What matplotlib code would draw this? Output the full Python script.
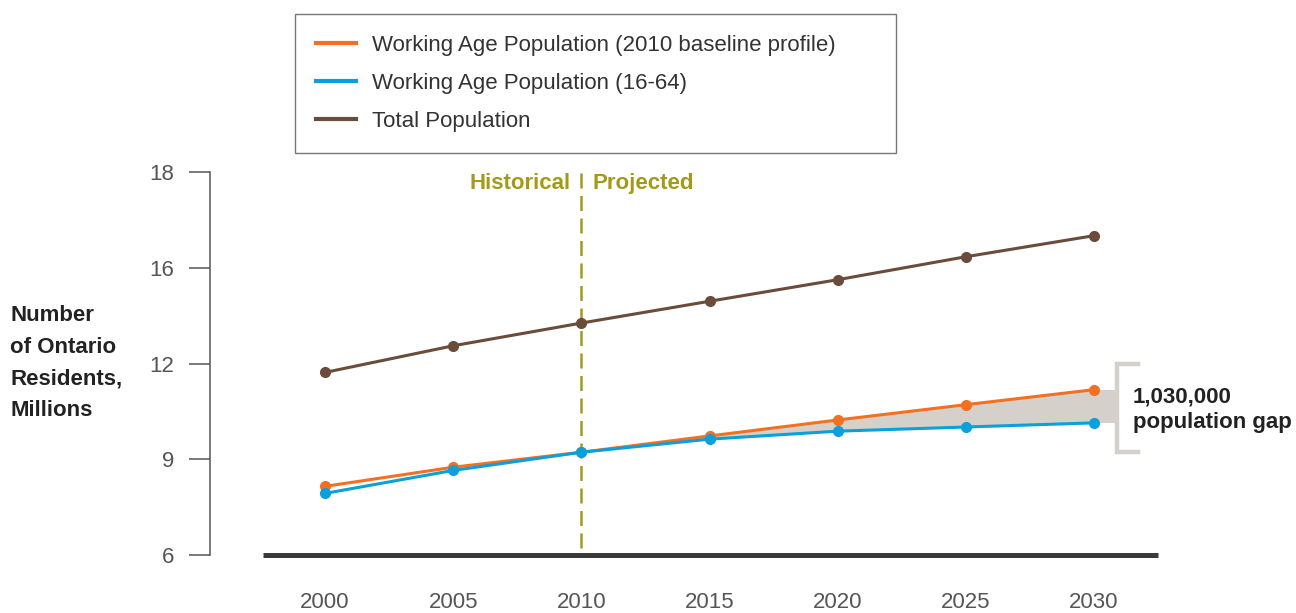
import numpy as np
import matplotlib.pyplot as plt
from matplotlib.lines import Line2D

plt.rcParams['font.family'] = ['Liberation Sans', 'DejaVu Sans']

# データ
years = [2000, 2005, 2010, 2015, 2020, 2025, 2030]
total_pop = [11.72, 12.74, 13.69, 14.60, 15.50, 16.23, 16.67]
working_baseline = [8.15, 8.75, 9.22, 9.73, 10.23, 10.71, 11.18]
working_16_64 = [7.93, 8.65, 9.22, 9.63, 9.88, 10.01, 10.14]
ytick_vals = [6, 9, 12, 16, 18]

orange = '#f37021'
blue = '#0aa0dc'
brown = '#6b4c3b'
olive = '#a39a1a'
gap_grey = '#d6d0cb'
grey_txt = '#555555'

# Y軸は目盛が等間隔(6, 9, 12, 16, 18)の区分線形スケール
def fwd(v):
    return np.interp(v, ytick_vals, np.arange(len(ytick_vals)))

def inv(p):
    return np.interp(p, np.arange(len(ytick_vals)), ytick_vals)

fig = plt.figure(figsize=(12.96, 6.13), dpi=100)
ax = fig.add_axes([210 / 1296, 58 / 613, 1 - 210 / 1296, 383 / 613])
ax.set_yscale('function', functions=(fwd, inv))
px_per_year = (1094 - 325) / 30
ax.set_xlim(2000 - 115 / px_per_year, 2030 + 202 / px_per_year)
ax.set_ylim(6, 18)

# 人口ギャップの塗り (2010年以降)
i0 = years.index(2010)
ax.fill_between(years[i0:], working_16_64[i0:], working_baseline[i0:],
                color=gap_grey, lw=0)
x_br = 2030 + 21 / px_per_year
ax.fill_between([2030, x_br], working_16_64[-1], working_baseline[-1],
                color=gap_grey, lw=0)

# 系列
ax.plot(years, total_pop, color=brown, lw=2.2, marker='o', ms=7, zorder=3)
ax.plot(years, working_baseline, color=orange, lw=2.2, marker='o', ms=7, zorder=4)
ax.plot(years, working_16_64, color=blue, lw=2.2, marker='o', ms=7, zorder=5)

# 基準線 (x軸)
ax.plot([2000 - 62 / px_per_year, 2030 + 64 / px_per_year], [6, 6],
        color='#3a3a3a', lw=3.6, solid_capstyle='butt', clip_on=False)

# 2010年の区切り線
ax.axvline(2010, ymin=7 / 383, ymax=1, color=olive, lw=1.8, dashes=(6, 3))
off = 11 / px_per_year
ax.text(2010 - off, 17.77, 'Historical', color=olive, fontsize=16,
        fontweight='bold', ha='right', va='center')
ax.text(2010 + off, 17.77, 'Projected', color=olive, fontsize=16,
        fontweight='bold', ha='left', va='center')

# 括弧と注記
bx0 = 2030 + 23 / px_per_year
bx1 = 2030 + 44 / px_per_year
ax.plot([bx1, bx0, bx0, bx1], [11.97, 11.97, 9.22, 9.22], color=gap_grey,
        lw=3.2, solid_joinstyle='miter', clip_on=False)
ax.text(2030 + 39 / px_per_year, 10.55, '1,030,000\npopulation gap',
        fontsize=16, fontweight='bold', color='#222222', ha='left',
        va='center', linespacing=1.3)

# 軸の体裁
for s in ['top', 'right', 'bottom']:
    ax.spines[s].set_visible(False)
ax.spines['left'].set_color(grey_txt)
ax.spines['left'].set_linewidth(1.1)
ax.set_yticks(ytick_vals)
ax.set_yticklabels([str(v) for v in ytick_vals])
ax.yaxis.set_minor_locator(plt.NullLocator())
ax.tick_params(axis='y', length=15, width=1.1, color=grey_txt, pad=11,
               labelsize=16, labelcolor=grey_txt)
ax.set_xticks(years)
ax.tick_params(axis='x', length=0, pad=27, labelsize=16, labelcolor=grey_txt)
ax.patch.set_visible(False)

fig.text(10 / 1296, 1 - 363 / 613, 'Number\nof Ontario\nResidents,\nMillions',
         fontsize=16, fontweight='bold', color='#222222', ha='left',
         va='center', linespacing=1.65)

# 凡例
handles = [Line2D([], [], color=orange, lw=3),
           Line2D([], [], color=blue, lw=3),
           Line2D([], [], color=brown, lw=3)]
labels = ['Working Age Population (2010 baseline profile)',
          'Working Age Population (16-64)',
          'Total Population']
leg = fig.legend(handles, labels, loc='upper left',
                 bbox_to_anchor=(295 / 1296, 1 - 151 / 613, 601 / 1296, 137 / 613),
                 mode='expand', fontsize=16, frameon=True, fancybox=False,
                 edgecolor=grey_txt, borderpad=0.95, labelspacing=0.76,
                 handlelength=1.8, handletextpad=0.72, borderaxespad=0)
leg.get_frame().set_linewidth(1.0)
for t in leg.get_texts():
    t.set_color('#333333')

fig.savefig('out.png', dpi=100)
